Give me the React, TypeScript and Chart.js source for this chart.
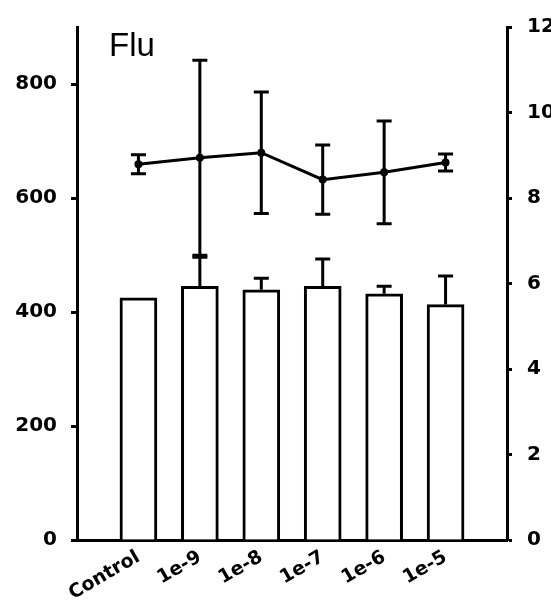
import React, { useEffect, useRef } from "react";
import { Chart, registerables } from "chart.js";

Chart.register(...registerables);

const categories = ["Control", "1e-9", "1e-8", "1e-7", "1e-6", "1e-5"];
const barValues = [425, 445, 439, 445, 432, 413];
const barErrors = [0, 51, 20, 48, 13, 50];
const lineValues = [8.79, 8.94, 9.06, 8.43, 8.6, 8.83];
const lineErrors = [0.22, 2.28, 1.42, 0.81, 1.2, 0.2];
const leftTicks = [0, 200, 400, 600, 800];
const titleText = "Flu";

export default function App() {
  const ref = useRef<HTMLCanvasElement>(null);
  useEffect(() => {
    if (!ref.current) return;
    const labels = ["", ...categories, ""];
    const bars = [null, ...barValues, null];
    const line = [null, ...lineValues, null];

    const errorPlugin = {
      id: "errs",
      afterDatasetsDraw(chart: any) {
        const ctx = chart.ctx;
        const y = chart.scales.y;
        const y1 = chart.scales.y1;
        const barMeta = chart.getDatasetMeta(0);
        const lineMeta = chart.getDatasetMeta(1);
        ctx.save();
        ctx.strokeStyle = "#000";
        ctx.lineWidth = 3;
        const cap = 7.5;
        barValues.forEach((v, i) => {
          const e = barErrors[i];
          if (!e) return;
          const el = barMeta.data[i + 1];
          const x = el.x;
          const yt = y.getPixelForValue(v);
          const ye = y.getPixelForValue(v + e);
          ctx.beginPath();
          ctx.moveTo(x, yt);
          ctx.lineTo(x, ye);
          ctx.moveTo(x - cap, ye);
          ctx.lineTo(x + cap, ye);
          ctx.stroke();
        });
        lineValues.forEach((v, i) => {
          const e = lineErrors[i];
          const el = lineMeta.data[i + 1];
          const x = el.x;
          const ya = y1.getPixelForValue(v + e);
          const yb = y1.getPixelForValue(v - e);
          ctx.beginPath();
          ctx.moveTo(x, ya);
          ctx.lineTo(x, yb);
          ctx.moveTo(x - cap, ya);
          ctx.lineTo(x + cap, ya);
          ctx.moveTo(x - cap, yb);
          ctx.lineTo(x + cap, yb);
          ctx.stroke();
        });
        ctx.fillStyle = "#000";
        ctx.font = '33px "Liberation Sans"';
        ctx.textBaseline = "alphabetic";
        ctx.textAlign = "left";
        ctx.fillText(titleText, 109, 56);
        ctx.restore();
      },
    };

    const chart = new Chart(ref.current, {
      type: "bar",
      data: {
        labels,
        datasets: [
          {
            type: "bar",
            data: bars as any,
            backgroundColor: "#fff",
            borderColor: "#000",
            borderWidth: 3,
            barThickness: 37,
            yAxisID: "y",
            order: 2,
          },
          {
            type: "line",
            data: line as any,
            borderColor: "#000",
            borderWidth: 3,
            pointRadius: 2.5,
            pointBackgroundColor: "#000",
            pointBorderColor: "#000",
            yAxisID: "y1",
            order: 1,
            spanGaps: false,
          } as any,
        ],
      },
      options: {
        animation: false,
        responsive: false,
        layout: { padding: { top: 18, left: 0, right: 0, bottom: 0 } },
        plugins: { legend: { display: false }, tooltip: { enabled: false } },
        scales: {
          x: {
            type: "category",
            offset: false,
            grid: { display: false, drawTicks: false },
            border: { display: true, color: "#000", width: 3 },
            ticks: {
              color: "#000",
              font: { family: "DejaVu Sans", weight: "bold", size: 19 },
              minRotation: 30,
              maxRotation: 30,
              autoSkip: false,
              padding: 6,
            },
            afterFit: (s: any) => {
              s.height = 61;
            },
          },
          y: {
            type: "linear",
            position: "left",
            min: 0,
            max: 900,
            ticks: {
              stepSize: 200,
              color: "#000",
              padding: 14,
              font: { family: "DejaVu Sans", weight: "bold", size: 20 },
            },
            afterBuildTicks: (s: any) => {
              s.ticks = leftTicks.map((v) => ({ value: v }));
            },
            grid: {
              drawOnChartArea: false,
              drawTicks: true,
              tickLength: 6,
              tickWidth: 3,
              tickColor: "#000",
            },
            border: { display: true, color: "#000", width: 3 },
            afterFit: (s: any) => {
              s.width = 77;
            },
          },
          y1: {
            type: "linear",
            position: "right",
            min: 0,
            max: 12,
            ticks: {
              stepSize: 2,
              color: "#000",
              padding: 15,
              font: { family: "DejaVu Sans", weight: "bold", size: 20 },
            },
            grid: {
              drawOnChartArea: false,
              drawTicks: true,
              tickLength: 5,
              tickWidth: 3,
              tickColor: "#000",
            },
            border: { display: true, color: "#000", width: 3 },
            afterFit: (s: any) => {
              s.width = 44;
            },
          },
        },
      } as any,
      plugins: [errorPlugin],
    });
    return () => chart.destroy();
  }, []);

  return (
    <div style={{ position: "absolute", left: 0, top: 0, width: 551, height: 601, background: "#fff" }}>
      <canvas ref={ref} width={551} height={601} style={{ display: "block" }} />
    </div>
  );
}
